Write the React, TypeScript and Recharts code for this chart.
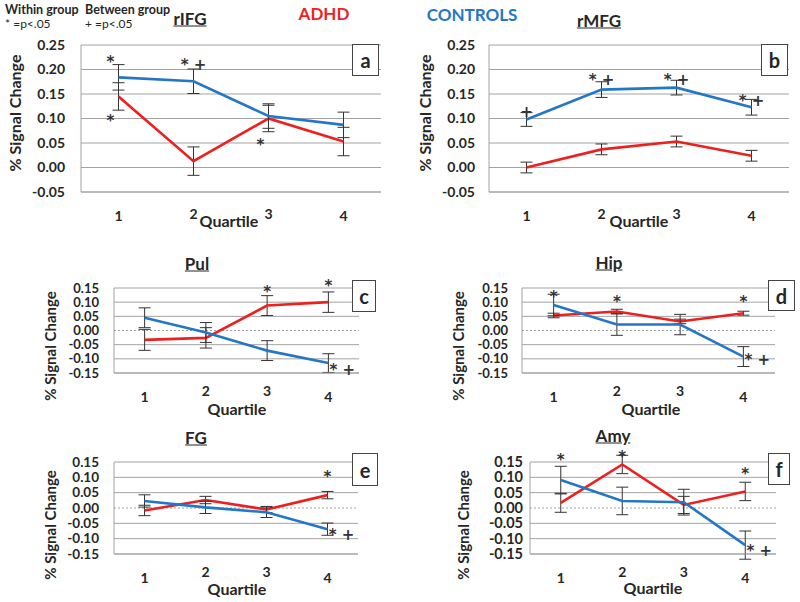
import {
  LineChart,
  Line,
  XAxis,
  YAxis,
  CartesianGrid,
  ReferenceLine,
  ReferenceDot,
  ErrorBar,
} from "recharts";

const FONT = "Lato, 'Open Sans', sans-serif";
const MARK_FONT = "'DejaVu Sans', sans-serif";
const RED = "#ee1f1f";
const BLUE = "#2477c6";
const GRID = "#a3a3a3";
const INK = "#262626";

const QUARTILES = ["1", "2", "3", "4"];
const TOP_TICKS = [-0.05, 0, 0.05, 0.1, 0.15, 0.2, 0.25];
const LOW_TICKS = [-0.15, -0.1, -0.05, 0, 0.05, 0.1, 0.15];

// rIFG
const rifgAdhd = [0.145, 0.013, 0.1, 0.053];
const rifgAdhdErr = [0.028, 0.029, 0.027, 0.029];
const rifgCtrl = [0.184, 0.176, 0.105, 0.087];
const rifgCtrlErr = [0.026, 0.025, 0.025, 0.026];

// rMFG
const rmfgAdhd = [0.0, 0.037, 0.053, 0.024];
const rmfgAdhdErr = [0.011, 0.011, 0.011, 0.011];
const rmfgCtrl = [0.098, 0.159, 0.163, 0.123];
const rmfgCtrlErr = [0.014, 0.016, 0.015, 0.016];

// Pul
const pulAdhd = [-0.033, -0.026, 0.088, 0.1];
const pulAdhdErr = [0.037, 0.036, 0.035, 0.036];
const pulCtrl = [0.045, -0.007, -0.071, -0.115];
const pulCtrlErr = [0.035, 0.035, 0.035, 0.033];

// Hip
const hipAdhd = [0.053, 0.067, 0.032, 0.061];
const hipAdhdErr = [0.008, 0.008, 0.008, 0.007];
const hipCtrl = [0.09, 0.021, 0.021, -0.092];
const hipCtrlErr = [0.038, 0.038, 0.036, 0.035];

// FG
const fgAdhd = [-0.008, 0.026, -0.005, 0.042];
const fgAdhdErr = [0.017, 0.012, 0.01, 0.012];
const fgCtrl = [0.023, 0.002, -0.014, -0.069];
const fgCtrlErr = [0.02, 0.02, 0.017, 0.02];

// Amy
const amyAdhd = [0.017, 0.142, 0.01, 0.054];
const amyAdhdErr = [0.031, 0.03, 0.028, 0.03];
const amyCtrl = [0.091, 0.023, 0.019, -0.121];
const amyCtrlErr = [0.045, 0.045, 0.042, 0.046];

type Note = { q: string; v: number; text: string; side?: "left" | "right" };

// significance marks: * within group, + between group
const rifgNotes: Note[] = [
  { q: "1", v: 0.22, text: "*", side: "left" },
  { q: "1", v: 0.098, text: "*", side: "left" },
  { q: "2", v: 0.214, text: "* +" },
  { q: "3", v: 0.051, text: "*", side: "left" },
];
const rmfgNotes: Note[] = [
  { q: "1", v: 0.118, text: "+" },
  { q: "2", v: 0.182, text: "* +" },
  { q: "3", v: 0.182, text: "* +" },
  { q: "4", v: 0.139, text: "* +" },
];
const pulNotes: Note[] = [
  { q: "3", v: 0.142, text: "*" },
  { q: "4", v: 0.164, text: "*" },
  { q: "4", v: -0.133, text: "* +", side: "right" },
];
const hipNotes: Note[] = [
  { q: "1", v: 0.125, text: "*" },
  { q: "2", v: 0.107, text: "*" },
  { q: "4", v: 0.107, text: "*" },
  { q: "4", v: -0.098, text: "* +", side: "right" },
];
const fgNotes: Note[] = [
  { q: "4", v: 0.109, text: "*" },
  { q: "4", v: -0.08, text: "* +", side: "right" },
];
const amyNotes: Note[] = [
  { q: "1", v: 0.164, text: "*" },
  { q: "2", v: 0.174, text: "*" },
  { q: "4", v: 0.118, text: "*" },
  { q: "4", v: -0.133, text: "* +", side: "right" },
];

interface PanelCfg {
  letter: string;
  title: string;
  adhd: number[];
  adhdErr: number[];
  ctrl: number[];
  ctrlErr: number[];
  notes: Note[];
  ticks: number[];
  zeroDashed: boolean;
  plot: { x: number; y: number; w: number; h: number };
  tickGap: number;
  tickFont: number;
  labelFont: number;
  midLift: number;
  titleAt: [number, number];
  ylabAt: [number, number];
  quartAt: [number, number];
  box: { x: number; y: number; w: number; h: number };
}

const PANELS: PanelCfg[] = [
  {
    letter: "a", title: "rIFG", adhd: rifgAdhd, adhdErr: rifgAdhdErr, ctrl: rifgCtrl, ctrlErr: rifgCtrlErr,
    notes: rifgNotes, ticks: TOP_TICKS, zeroDashed: false,
    plot: { x: 81, y: 45, w: 300, h: 147 }, tickGap: 16, tickFont: 14, labelFont: 16, midLift: 2,
    titleAt: [190, 18], ylabAt: [15, 113], quartAt: [229, 221], box: { x: 352, y: 44, w: 27, h: 32 },
  },
  {
    letter: "b", title: "rMFG", adhd: rmfgAdhd, adhdErr: rmfgAdhdErr, ctrl: rmfgCtrl, ctrlErr: rmfgCtrlErr,
    notes: rmfgNotes, ticks: TOP_TICKS, zeroDashed: false,
    plot: { x: 489, y: 45, w: 300, h: 147 }, tickGap: 14, tickFont: 14, labelFont: 16, midLift: 2,
    titleAt: [599, 20], ylabAt: [425, 113], quartAt: [639, 221], box: { x: 761, y: 44, w: 27, h: 32 },
  },
  {
    letter: "c", title: "Pul", adhd: pulAdhd, adhdErr: pulAdhdErr, ctrl: pulCtrl, ctrlErr: pulCtrlErr,
    notes: pulNotes, ticks: LOW_TICKS, zeroDashed: true,
    plot: { x: 114, y: 288, w: 245, h: 85 }, tickGap: 15, tickFont: 13, labelFont: 15, midLift: 6,
    titleAt: [197, 263], ylabAt: [50, 346], quartAt: [237, 409], box: { x: 352, y: 280, w: 24, h: 32 },
  },
  {
    letter: "d", title: "Hip", adhd: hipAdhd, adhdErr: hipAdhdErr, ctrl: hipCtrl, ctrlErr: hipCtrlErr,
    notes: hipNotes, ticks: LOW_TICKS, zeroDashed: true,
    plot: { x: 522, y: 288, w: 253, h: 85 }, tickGap: 14, tickFont: 13, labelFont: 15, midLift: 6,
    titleAt: [609, 262], ylabAt: [458, 346], quartAt: [651, 409], box: { x: 768, y: 280, w: 27, h: 31 },
  },
  {
    letter: "e", title: "FG", adhd: fgAdhd, adhdErr: fgAdhdErr, ctrl: fgCtrl, ctrlErr: fgCtrlErr,
    notes: fgNotes, ticks: LOW_TICKS, zeroDashed: true,
    plot: { x: 114, y: 462, w: 244, h: 92 }, tickGap: 15, tickFont: 13.5, labelFont: 15, midLift: 6,
    titleAt: [196, 437], ylabAt: [50, 525], quartAt: [237, 589], box: { x: 352, y: 453, w: 26, h: 33 },
  },
  {
    letter: "f", title: "Amy", adhd: amyAdhd, adhdErr: amyAdhdErr, ctrl: amyCtrl, ctrlErr: amyCtrlErr,
    notes: amyNotes, ticks: LOW_TICKS, zeroDashed: true,
    plot: { x: 530, y: 462, w: 246, h: 92 }, tickGap: 7, tickFont: 14.5, labelFont: 15, midLift: 6,
    titleAt: [613, 435], ylabAt: [463, 525], quartAt: [653, 588], box: { x: 768, y: 453, w: 22, h: 32 },
  },
];

const Y_W = 70;
const TOP_M = 24;
const RIGHT_M = 20;
const X_H = 34;
const BOTTOM_M = 4;

const SIDE_DX = { left: -8, right: 14 };

function Panel({ p }: { p: PanelCfg }) {
  const data = QUARTILES.map((q, i) => ({
    q,
    adhd: p.adhd[i],
    adhdErr: p.adhdErr[i],
    ctrl: p.ctrl[i],
    ctrlErr: p.ctrlErr[i],
  }));
  const { x, y, w, h } = p.plot;
  const lo = p.ticks[0];
  const hi = p.ticks[p.ticks.length - 1];
  const pad = w / 8;
  const tickStyle = { fontSize: p.tickFont, fontWeight: 700, fill: INK, fontFamily: FONT };

  // Excel nudged the middle quartile labels up around the axis title
  const renderXTick = (t: any) => {
    const v = t.payload.value;
    const lift = v === "2" || v === "3" ? p.midLift : 0;
    return (
      <text
        x={t.x}
        y={t.y - lift}
        dy="0.71em"
        textAnchor="middle"
        fontFamily={FONT}
        fontSize={14}
        fontWeight={700}
        fill={INK}
      >
        {v}
      </text>
    );
  };

  return (
    <div style={{ position: "absolute", left: x - Y_W, top: y - TOP_M }}>
      <LineChart
        width={Y_W + w + RIGHT_M}
        height={TOP_M + h + X_H + BOTTOM_M}
        data={data}
        margin={{ top: TOP_M, right: RIGHT_M, bottom: BOTTOM_M, left: 0 }}
        style={{ overflow: "visible" }}
      >
        <CartesianGrid
          vertical={false}
          stroke={GRID}
          horizontalValues={p.ticks.filter((t) => !(p.zeroDashed && t === 0))}
        />
        {p.zeroDashed && (
          <ReferenceLine y={0} stroke="#8a8a8a" strokeDasharray="2 2" strokeWidth={0.8} />
        )}
        <XAxis
          dataKey="q"
          interval={0}
          height={X_H}
          padding={{ left: pad, right: pad }}
          axisLine={{ stroke: GRID }}
          tickLine={false}
          tickSize={0}
          tickMargin={19}
          tick={renderXTick}
        />
        <YAxis
          type="number"
          domain={[lo, hi]}
          ticks={p.ticks}
          interval={0}
          allowDataOverflow
          width={Y_W}
          axisLine={{ stroke: GRID }}
          tickLine={false}
          tickSize={0}
          tickMargin={p.tickGap}
          tickFormatter={(v: number) => v.toFixed(2)}
          tick={tickStyle}
        />
        <Line
          type="linear"
          dataKey="adhd"
          stroke={RED}
          strokeWidth={2.6}
          dot={false}
          activeDot={false}
          isAnimationActive={false}
        >
          <ErrorBar dataKey="adhdErr" width={6} stroke="#333" strokeWidth={1} isAnimationActive={false} />
        </Line>
        <Line
          type="linear"
          dataKey="ctrl"
          stroke={BLUE}
          strokeWidth={2.6}
          dot={false}
          activeDot={false}
          isAnimationActive={false}
        >
          <ErrorBar dataKey="ctrlErr" width={6} stroke="#333" strokeWidth={1} isAnimationActive={false} />
        </Line>
        {p.notes.map((n, i) => (
          <ReferenceDot
            key={i}
            x={n.q}
            y={n.v}
            r={1}
            ifOverflow="visible"
            shape={(s: any) => (
              <text
                x={s.cx + (n.side ? SIDE_DX[n.side] : 0)}
                y={s.cy + 7}
                textAnchor="middle"
                fontFamily={MARK_FONT}
                fontSize={15}
                fontWeight={700}
                fill="#333"
              >
                {n.text}
              </text>
            )}
          />
        ))}
      </LineChart>
    </div>
  );
}

const centered = (cx: number, cy: number): React.CSSProperties => ({
  position: "absolute",
  left: cx,
  top: cy,
  transform: "translate(-50%, -50%)",
  whiteSpace: "nowrap",
  fontFamily: FONT,
  fontWeight: 700,
  lineHeight: 1,
});

export default function App() {
  return (
    <div
      style={{
        position: "absolute",
        left: 0,
        top: 0,
        width: 800,
        height: 602,
        background: "#fff",
        overflow: "hidden",
        fontFamily: FONT,
        color: INK,
      }}
    >
      {PANELS.map((p) => (
        <Panel key={p.letter} p={p} />
      ))}

      {/* header legend */}
      <div style={{ ...centered(5, 10), transform: "translateY(-50%)", fontSize: 12.5 }}>Within group</div>
      <div style={{ ...centered(85, 10), transform: "translateY(-50%)", fontSize: 12.5 }}>Between group</div>
      <div style={{ ...centered(5, 24), transform: "translateY(-50%)", fontSize: 12, fontWeight: 400 }}>* =p&lt;.05</div>
      <div style={{ ...centered(85, 24), transform: "translateY(-50%)", fontSize: 12, fontWeight: 400 }}>+ =p&lt;.05</div>
      <div style={{ ...centered(324, 13), fontSize: 17, color: RED }}>ADHD</div>
      <div style={{ ...centered(472, 14), fontSize: 17, color: BLUE }}>CONTROLS</div>

      {PANELS.map((p) => (
        <div key={p.letter + "-txt"}>
          <div style={{ ...centered(p.titleAt[0], p.titleAt[1]), fontSize: 17, textDecoration: "underline" }}>
            {p.title}
          </div>
          <div
            style={{
              ...centered(p.ylabAt[0], p.ylabAt[1]),
              transform: "translate(-50%, -50%) rotate(-90deg)",
              fontSize: p.labelFont,
            }}
          >
            % Signal Change
          </div>
          <div style={{ ...centered(p.quartAt[0], p.quartAt[1]), fontSize: 16 }}>Quartile</div>
          <div
            style={{
              position: "absolute",
              left: p.box.x,
              top: p.box.y,
              width: p.box.w,
              height: p.box.h,
              boxSizing: "border-box",
              border: "1px solid #444",
              background: "#fff",
              display: "flex",
              alignItems: "center",
              justifyContent: "center",
              fontFamily: FONT,
              fontWeight: 700,
              fontSize: 20,
              lineHeight: 1,
            }}
          >
            {p.letter}
          </div>
        </div>
      ))}
    </div>
  );
}
